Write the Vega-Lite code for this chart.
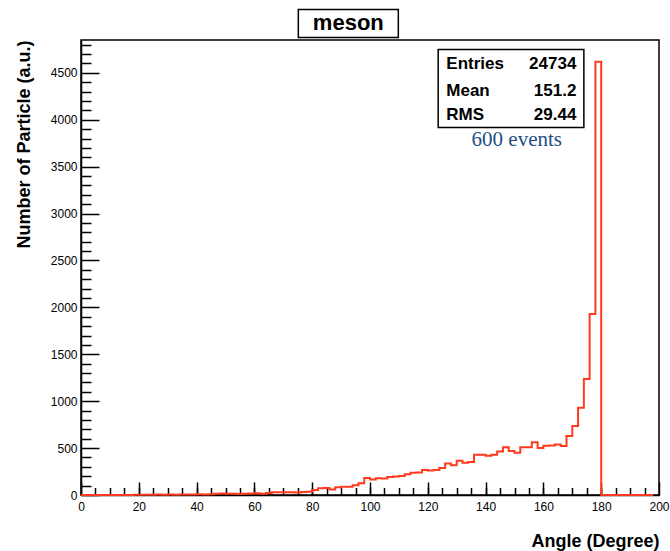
{
  "$schema": "https://vega.github.io/schema/vega-lite/v6.json",
  "width": 578,
  "height": 455,
  "autosize": "none",
  "padding": {"left": 81, "top": 40, "right": 11, "bottom": 56},
  "background": "white",
  "config": {
    "view": {"stroke": "black", "strokeWidth": 1.5},
    "axis": {"grid": false, "zindex": 1, "domainColor": "black", "tickColor": "black", "labelColor": "black", "titleColor": "black", "labelFont": "Liberation Sans", "titleFont": "Liberation Sans", "labelFlush": false, "labelOverlap": false}
  },
  "resolve": {"axis": {"x": "independent", "y": "independent"}},
  "layer": [
    {
      "data": {"values": [{}]},
      "mark": {"type": "rect", "fill": "white", "stroke": "black", "strokeWidth": 1.5},
      "encoding": {
        "x": {"datum": 75.2, "type": "quantitative", "scale": {"domain": [0, 200], "nice": false}, "axis": null},
        "x2": {"datum": 109.8},
        "y": {"datum": 5176, "type": "quantitative", "scale": {"domain": [0, 4850], "nice": false}, "axis": null},
        "y2": {"datum": 4877}
      }
    },
    {
      "data": {"values": [{}]},
      "mark": {"type": "text", "text": "meson", "align": "center", "baseline": "alphabetic", "font": "Liberation Sans", "fontSize": 22, "fontWeight": "bold", "color": "black"},
      "encoding": {"x": {"datum": 92.5, "type": "quantitative", "scale": {"domain": [0, 200], "nice": false}, "axis": null}, "y": {"datum": 4955, "type": "quantitative", "scale": {"domain": [0, 4850], "nice": false}, "axis": null}}
    },
    {
      "data": {"values": [{}]},
      "mark": {"type": "rect", "fill": "white", "stroke": "black", "strokeWidth": 1.5},
      "encoding": {
        "x": {"datum": 123.6, "type": "quantitative", "scale": {"domain": [0, 200], "nice": false},
          "axis": {"orient": "bottom", "values": [5,10,15,20,25,30,35,40,45,50,55,60,65,70,75,80,85,90,95,100,105,110,115,120,125,130,135,140,145,150,155,160,165,170,175,180,185,190,195], "tickSize": -7.5, "tickWidth": 1.5, "labels": false, "domain": false, "title": null}},
        "x2": {"datum": 174.0},
        "y": {"datum": 4750, "type": "quantitative", "scale": {"domain": [0, 4850], "nice": false},
          "axis": {"orient": "left", "values": [100,200,300,400,600,700,800,900,1100,1200,1300,1400,1600,1700,1800,1900,2100,2200,2300,2400,2600,2700,2800,2900,3100,3200,3300,3400,3600,3700,3800,3900,4100,4200,4300,4400,4600,4700,4800], "tickSize": -10, "tickWidth": 1.5, "labels": false, "domain": false, "title": null}},
        "y2": {"datum": 3918}
      }
    },
    {
      "data": {"values": [{"angle":0,"count":0},{"angle":2,"count":0},{"angle":4,"count":0},{"angle":6,"count":0},{"angle":8,"count":0},{"angle":10,"count":0},{"angle":12,"count":0},{"angle":14,"count":0},{"angle":16,"count":0},{"angle":18,"count":3},{"angle":20,"count":4},{"angle":22,"count":3},{"angle":24,"count":4},{"angle":26,"count":5},{"angle":28,"count":4},{"angle":30,"count":5},{"angle":32,"count":4},{"angle":34,"count":6},{"angle":36,"count":5},{"angle":38,"count":6},{"angle":40,"count":7},{"angle":42,"count":6},{"angle":44,"count":8},{"angle":46,"count":12},{"angle":48,"count":15},{"angle":50,"count":13},{"angle":52,"count":14},{"angle":54,"count":10},{"angle":56,"count":12},{"angle":58,"count":16},{"angle":60,"count":18},{"angle":62,"count":14},{"angle":64,"count":22},{"angle":66,"count":28},{"angle":68,"count":30},{"angle":70,"count":30},{"angle":72,"count":29},{"angle":74,"count":26},{"angle":76,"count":32},{"angle":78,"count":34},{"angle":80,"count":52},{"angle":82,"count":73},{"angle":84,"count":75},{"angle":86,"count":58},{"angle":88,"count":82},{"angle":90,"count":89},{"angle":92,"count":88},{"angle":94,"count":103},{"angle":96,"count":124},{"angle":98,"count":182},{"angle":100,"count":164},{"angle":102,"count":178},{"angle":104,"count":177},{"angle":106,"count":193},{"angle":108,"count":197},{"angle":110,"count":202},{"angle":112,"count":220},{"angle":114,"count":238},{"angle":116,"count":240},{"angle":118,"count":266},{"angle":120,"count":260},{"angle":122,"count":267},{"angle":124,"count":288},{"angle":126,"count":336},{"angle":128,"count":316},{"angle":130,"count":366},{"angle":132,"count":345},{"angle":134,"count":352},{"angle":136,"count":430},{"angle":138,"count":428},{"angle":140,"count":419},{"angle":142,"count":430},{"angle":144,"count":465},{"angle":146,"count":508},{"angle":148,"count":469},{"angle":150,"count":451},{"angle":152,"count":508},{"angle":154,"count":510},{"angle":156,"count":563},{"angle":158,"count":501},{"angle":160,"count":526},{"angle":162,"count":528},{"angle":164,"count":538},{"angle":166,"count":522},{"angle":168,"count":629},{"angle":170,"count":735},{"angle":172,"count":931},{"angle":174,"count":1236},{"angle":176,"count":1929},{"angle":178,"count":4618},{"angle":180,"count":0},{"angle":182,"count":0},{"angle":184,"count":0},{"angle":186,"count":0},{"angle":188,"count":0},{"angle":190,"count":0},{"angle":192,"count":0},{"angle":194,"count":0},{"angle":196,"count":0},{"angle":198,"count":0}]},
      "mark": {"type": "line", "interpolate": "step-after", "color": "#ff3a1e", "strokeWidth": 2},
      "encoding": {
        "x": {"field": "angle", "type": "quantitative", "scale": {"domain": [0, 200], "nice": false},
          "axis": {"orient": "bottom", "values": [0,20,40,60,80,100,120,140,160,180,200], "format": "d", "tickSize": -13, "tickWidth": 1.5, "domainWidth": 1.5, "labelFontSize": 12, "labelPadding": 19, "title": "Angle (Degree)", "titleAnchor": "end", "titleFontSize": 18, "titleFontWeight": "bold", "titlePadding": 20}},
        "y": {"field": "count", "type": "quantitative", "scale": {"domain": [0, 4850], "nice": false},
          "axis": {"orient": "left", "values": [0,500,1000,1500,2000,2500,3000,3500,4000,4500], "format": "d", "tickSize": -18, "tickWidth": 1.5, "domainWidth": 1.5, "labelFontSize": 12, "labelPadding": 22, "title": "Number of Particle (a.u.)", "titleAnchor": "end", "titleFontSize": 18, "titleFontWeight": "bold", "titlePadding": 17}}
      }
    },
    {
      "data": {"values": [{}]},
      "mark": {"type": "text", "text": "Entries", "align": "left", "baseline": "alphabetic", "font": "Liberation Sans", "fontSize": 17, "fontWeight": "bold", "color": "black"},
      "encoding": {"x": {"datum": 126.4, "type": "quantitative", "scale": {"domain": [0, 200], "nice": false}, "axis": null}, "y": {"datum": 4540, "type": "quantitative", "scale": {"domain": [0, 4850], "nice": false}, "axis": null}}
    },
    {
      "data": {"values": [{}]},
      "mark": {"type": "text", "text": "Mean", "align": "left", "baseline": "alphabetic", "font": "Liberation Sans", "fontSize": 17, "fontWeight": "bold", "color": "black"},
      "encoding": {"x": {"datum": 126.4, "type": "quantitative", "scale": {"domain": [0, 200], "nice": false}, "axis": null}, "y": {"datum": 4252, "type": "quantitative", "scale": {"domain": [0, 4850], "nice": false}, "axis": null}}
    },
    {
      "data": {"values": [{}]},
      "mark": {"type": "text", "text": "RMS", "align": "left", "baseline": "alphabetic", "font": "Liberation Sans", "fontSize": 17, "fontWeight": "bold", "color": "black"},
      "encoding": {"x": {"datum": 126.4, "type": "quantitative", "scale": {"domain": [0, 200], "nice": false}, "axis": null}, "y": {"datum": 3996, "type": "quantitative", "scale": {"domain": [0, 4850], "nice": false}, "axis": null}}
    },
    {
      "data": {"values": [{}]},
      "mark": {"type": "text", "text": "24734", "align": "right", "baseline": "alphabetic", "font": "Liberation Sans", "fontSize": 17, "fontWeight": "bold", "color": "black"},
      "encoding": {"x": {"datum": 171.4, "type": "quantitative", "scale": {"domain": [0, 200], "nice": false}, "axis": null}, "y": {"datum": 4540, "type": "quantitative", "scale": {"domain": [0, 4850], "nice": false}, "axis": null}}
    },
    {
      "data": {"values": [{}]},
      "mark": {"type": "text", "text": "151.2", "align": "right", "baseline": "alphabetic", "font": "Liberation Sans", "fontSize": 17, "fontWeight": "bold", "color": "black"},
      "encoding": {"x": {"datum": 171.4, "type": "quantitative", "scale": {"domain": [0, 200], "nice": false}, "axis": null}, "y": {"datum": 4252, "type": "quantitative", "scale": {"domain": [0, 4850], "nice": false}, "axis": null}}
    },
    {
      "data": {"values": [{}]},
      "mark": {"type": "text", "text": "29.44", "align": "right", "baseline": "alphabetic", "font": "Liberation Sans", "fontSize": 17, "fontWeight": "bold", "color": "black"},
      "encoding": {"x": {"datum": 171.4, "type": "quantitative", "scale": {"domain": [0, 200], "nice": false}, "axis": null}, "y": {"datum": 3996, "type": "quantitative", "scale": {"domain": [0, 4850], "nice": false}, "axis": null}}
    },
    {
      "data": {"values": [{}]},
      "mark": {"type": "text", "text": "600 events", "align": "center", "baseline": "alphabetic", "font": "Liberation Serif", "fontSize": 21, "color": "#1d4f86"},
      "encoding": {"x": {"datum": 150.8, "type": "quantitative", "scale": {"domain": [0, 200], "nice": false}, "axis": null}, "y": {"datum": 3722, "type": "quantitative", "scale": {"domain": [0, 4850], "nice": false}, "axis": null}}
    }
  ]
}
